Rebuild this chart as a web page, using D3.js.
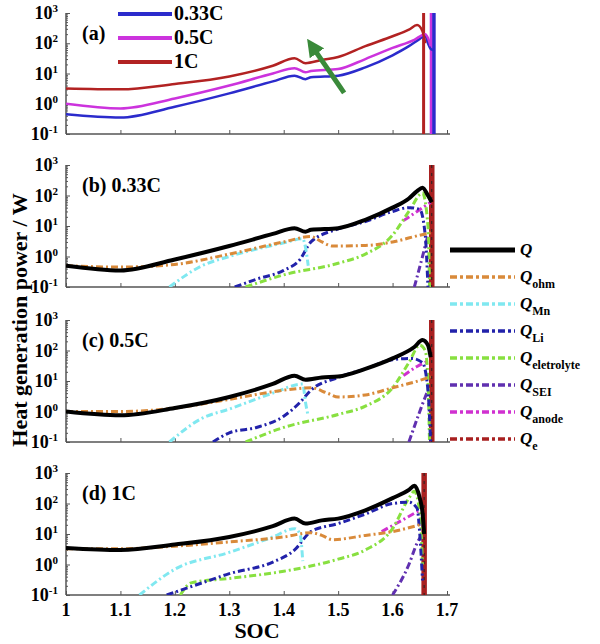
<!DOCTYPE html>
<html><head><meta charset="utf-8">
<script src="https://cdn.jsdelivr.net/npm/d3@7"></script>
<style>body{margin:0;background:#fff}text{font-family:"Liberation Serif","Times New Roman",serif;font-weight:bold}</style>
</head><body><svg id="c" width="600" height="644"></svg>
<script>
const xTicks=[1,1.1,1.2,1.3,1.4,1.5,1.6,1.7];
const yTicks=[0.1,1,10,100,1000];
// panel (a)
const a033=[[1,0.45],[1.1,0.35],[1.2,0.8],[1.3,2.2],[1.38,5.5],[1.42,8.5],[1.44,6.5],[1.45,7.5],[1.5,8.5],[1.55,16],[1.6,40],[1.63,80],[1.65,140],[1.66,180],[1.665,100],[1.67,65],[1.675,60]];
const a05=[[1,1.0],[1.1,0.7],[1.2,1.5],[1.3,4],[1.38,10],[1.42,15],[1.44,11],[1.45,12],[1.5,14],[1.55,30],[1.6,70],[1.64,130],[1.66,200],[1.665,150],[1.67,80]];
const a1C=[[1,3.2],[1.1,3],[1.2,4.5],[1.3,8],[1.38,18],[1.42,32],[1.44,22],[1.47,28],[1.5,35],[1.55,80],[1.6,170],[1.63,280],[1.645,400],[1.655,250],[1.66,100]];
const aVert=[1.657,1.671,1.676];
// panel (b) 0.33C
const bQ=[[1,0.5],[1.1,0.35],[1.2,0.8],[1.3,2.2],[1.38,5.5],[1.42,8.5],[1.44,6.5],[1.45,7.5],[1.5,8.5],[1.55,16],[1.6,40],[1.63,80],[1.645,140],[1.655,180],[1.665,100],[1.672,60]];
const bOhm=[[1,0.5],[1.1,0.45],[1.2,0.55],[1.3,1.2],[1.4,3],[1.45,4.5],[1.47,3],[1.49,2.2],[1.55,2.3],[1.6,3],[1.65,5],[1.67,6]];
const bMn=[[1.19,0.1],[1.25,0.5],[1.3,1.0],[1.4,2.8],[1.435,3.8],[1.44,2],[1.445,0.5]];
const bLi=[[1.31,0.1],[1.35,0.18],[1.4,0.35],[1.43,0.8],[1.45,3],[1.5,8],[1.55,14],[1.6,30],[1.63,40],[1.65,35],[1.66,5],[1.665,0.1]];
const bEl=[[1.33,0.1],[1.4,0.25],[1.5,0.6],[1.55,1.2],[1.6,5],[1.63,30],[1.655,120],[1.665,10],[1.668,0.08]];
const bSEI=[[1.64,0.1],[1.655,1],[1.665,5]];
const bAn=[[1.62,15],[1.645,30],[1.67,60]];
const bQe=1.672;
// panel (c) 0.5C
const cQ=[[1,1.0],[1.1,0.75],[1.2,1.3],[1.3,3],[1.38,8],[1.42,15],[1.44,11],[1.47,13],[1.5,14],[1.55,25],[1.6,55],[1.64,130],[1.655,220],[1.665,150],[1.67,60]];
const cOhm=[[1,1.0],[1.1,1.0],[1.2,1.3],[1.3,2.5],[1.4,5],[1.45,6],[1.48,4],[1.5,3],[1.55,3.5],[1.6,6],[1.66,12],[1.67,14]];
const cMn=[[1.19,0.1],[1.25,0.6],[1.3,1.2],[1.38,4],[1.435,8],[1.44,2],[1.445,0.7]];
const cLi=[[1.27,0.1],[1.3,0.2],[1.35,0.3],[1.4,0.7],[1.43,2],[1.45,5],[1.5,13],[1.55,25],[1.6,50],[1.635,55],[1.655,40],[1.665,5],[1.67,0.08]];
const cEl=[[1.33,0.1],[1.4,0.3],[1.5,0.8],[1.55,1.5],[1.6,6],[1.63,40],[1.65,150],[1.66,100],[1.665,10],[1.668,0.08]];
const cSEI=[[1.63,0.1],[1.65,1],[1.66,3],[1.665,5]];
const cAn=[[1.62,15],[1.645,30],[1.665,45]];
const cQe=1.672;
// panel (d) 1C
const dQ=[[1,3.5],[1.1,3],[1.2,4.5],[1.3,8],[1.38,18],[1.42,32],[1.44,22],[1.47,28],[1.5,32],[1.55,60],[1.6,150],[1.63,280],[1.64,380],[1.65,150],[1.655,50],[1.658,10]];
const dOhm=[[1,3.3],[1.1,3.3],[1.2,4],[1.3,5.5],[1.4,8],[1.45,11],[1.47,9],[1.49,6.5],[1.55,9],[1.6,12],[1.65,20]];
const dMn=[[1.135,0.1],[1.2,0.7],[1.3,2.5],[1.38,8],[1.42,15],[1.43,10],[1.435,1.3]];
const dLi=[[1.185,0.1],[1.25,0.25],[1.3,0.5],[1.38,1.2],[1.42,3],[1.45,12],[1.5,22],[1.55,45],[1.6,100],[1.63,110],[1.645,70],[1.65,10],[1.655,0.3]];
const dEl=[[1.21,0.1],[1.23,0.25],[1.3,0.35],[1.4,0.6],[1.5,1.5],[1.55,3],[1.6,15],[1.63,150],[1.64,250],[1.65,50],[1.655,1]];
const dSEI=[[1.6,0.1],[1.63,1],[1.645,5],[1.655,10]];
const dAn=[[1.58,12],[1.62,30],[1.65,60]];
const dQe=1.658;

const legA=["0.33C","0.5C","1C"];
const colA=["#2b2bcc","#cc33dd","#b22222"];
const legNames=[["Q",""],["Q","ohm"],["Q","Mn"],["Q","Li"],["Q","eletrolyte"],["Q","SEI"],["Q","anode"],["Q","e"]];
const colQ=["#000","#d98a3a","#80e8f0","#2222aa","#88e040","#6030b0","#d030d0","#a82020"];

const svg=d3.select("#c");
const x=d3.scaleLinear().domain([1,1.7]).range([66,447]);
const panels=[{t:13,b:134,lab:"(a)"},{t:165,b:287,lab:"(b) 0.33C"},{t:320,b:442,lab:"(c) 0.5C"},{t:473,b:595,lab:"(d) 1C"}];
const dash="7,3,2,3";
panels.forEach((p,i)=>{
  const y=d3.scaleLog().domain([0.1,1000]).range([p.b,p.t]);
  p.y=y;
  const g=svg.append("g");
  const cid="clip"+i;
  g.append("clipPath").attr("id",cid).append("rect").attr("x",66).attr("y",p.t-2).attr("width",385).attr("height",p.b-p.t+2);
  const ax=g.append("g").attr("transform",`translate(0,${p.b})`).call(d3.axisTop(x).tickValues(xTicks).tickSize(4).tickFormat(""));
  ax.select(".domain").attr("d",`M66,0H450`).attr("stroke","#555").attr("stroke-width",1.5);
  ax.selectAll("line").attr("stroke","#555");
  const minor=[];for(let e=-1;e<3;e++)for(let k=2;k<10;k++)minor.push(k*Math.pow(10,e));
  const ay=g.append("g").attr("transform","translate(66,0)").call(d3.axisRight(y).tickValues(minor).tickSize(2).tickFormat(""));
  ay.select(".domain").remove();ay.selectAll("line").attr("stroke","#555");
  const ay2=g.append("g").attr("transform","translate(66,0)").call(d3.axisRight(y).tickValues(yTicks).tickSize(4).tickFormat(""));
  ay2.select(".domain").attr("d",`M0,${p.b}V${p.t}`).attr("stroke","#555").attr("stroke-width",1.5);
  ay2.selectAll("line").attr("stroke","#555");
  yTicks.forEach(v=>{
    const e=Math.round(Math.log10(v));
    const t=g.append("text").attr("x",58).attr("y",y(v)+6).attr("text-anchor","end").attr("font-size",18);
    t.append("tspan").text("10");
    t.append("tspan").attr("dy",-7).attr("font-size",11).text(String(e));
  });
  if(i===3){
    xTicks.forEach(v=>g.append("text").attr("x",x(v)).attr("y",p.b+21).attr("text-anchor","middle").attr("font-size",18).text(String(v)));
  }
  g.append("text").attr("x",82).attr("y",p.t+27).attr("font-size",20).text(p.lab);
  p.g=g.append("g").attr("clip-path",`url(#${cid})`);
});
function draw(p,data,color,w,dsh){
  const line=d3.line().x(d=>x(d[0])).y(d=>p.y(Math.max(d[1],0.05))).curve(d3.curveMonotoneX);
  p.g.append("path").attr("d",line(data)).attr("fill","none").attr("stroke",color).attr("stroke-width",w).attr("stroke-dasharray",dsh||null);
}
function vert(p,xv,color,w,dsh){
  p.g.append("line").attr("x1",x(xv)).attr("x2",x(xv)).attr("y1",p.y(1000)).attr("y2",p.y(0.1)).attr("stroke",color).attr("stroke-width",w).attr("stroke-dasharray",dsh||null);
}
const pa=panels[0];
vert(pa,aVert[0],colA[2],3);vert(pa,aVert[1],colA[1],3);vert(pa,aVert[2],colA[0],3.5);
draw(pa,a033,colA[0],2.5);draw(pa,a05,colA[1],2.5);draw(pa,a1C,colA[2],2.5);
const ax1=x(1.511),ay1=pa.y(2.3),ax2=x(1.441),ay2=pa.y(160);
svg.append("defs").append("marker").attr("id","arr").attr("viewBox","0 0 10 10").attr("refX",5).attr("refY",5).attr("markerWidth",3.5).attr("markerHeight",3.5).attr("orient","auto").append("path").attr("d","M0,0L10,5L0,10z").attr("fill","#3a8a3a");
svg.append("line").attr("x1",ax1).attr("y1",ay1).attr("x2",ax2+6).attr("y2",ay2+9).attr("stroke","#3a8a3a").attr("stroke-width",5).attr("marker-end","url(#arr)");
legA.forEach((n,k)=>{
  svg.append("line").attr("x1",118).attr("x2",172).attr("y1",14+k*24).attr("y2",14+k*24).attr("stroke",colA[k]).attr("stroke-width",4);
  svg.append("text").attr("x",174).attr("y",20+k*24).attr("font-size",20).text(n);
});
const sets=[[bQ,bOhm,bMn,bLi,bEl,bSEI,bAn,bQe],[cQ,cOhm,cMn,cLi,cEl,cSEI,cAn,cQe],[dQ,dOhm,dMn,dLi,dEl,dSEI,dAn,dQe]];
sets.forEach((s,k)=>{
  const p=panels[k+1];
  vert(p,s[7],colQ[7],5.5);vert(p,s[7],"#222",1,"3,5");
  for(let j=6;j>=1;j--)draw(p,s[j],colQ[j],3,dash);
  draw(p,s[0],colQ[0],4);
});
legNames.forEach((n,k)=>{
  const yy=250+k*27;
  svg.append("line").attr("x1",450).attr("x2",515).attr("y1",yy).attr("y2",yy).attr("stroke",colQ[k]).attr("stroke-width",k===0?5:3.5).attr("stroke-dasharray",k===0?null:"7,3,3,3");
  const t=svg.append("text").attr("x",520).attr("y",yy+5).attr("font-size",17);
  t.append("tspan").attr("font-style","italic").text(n[0]);
  if(n[1])t.append("tspan").attr("dy",6).attr("font-size",12).text(n[1]);
});
svg.append("text").attr("transform","translate(27,320) rotate(-90)").attr("text-anchor","middle").attr("font-size",22).text("Heat generation power / W");
svg.append("text").attr("x",257).attr("y",638).attr("text-anchor","middle").attr("font-size",22).text("SOC");
</script></body></html>
